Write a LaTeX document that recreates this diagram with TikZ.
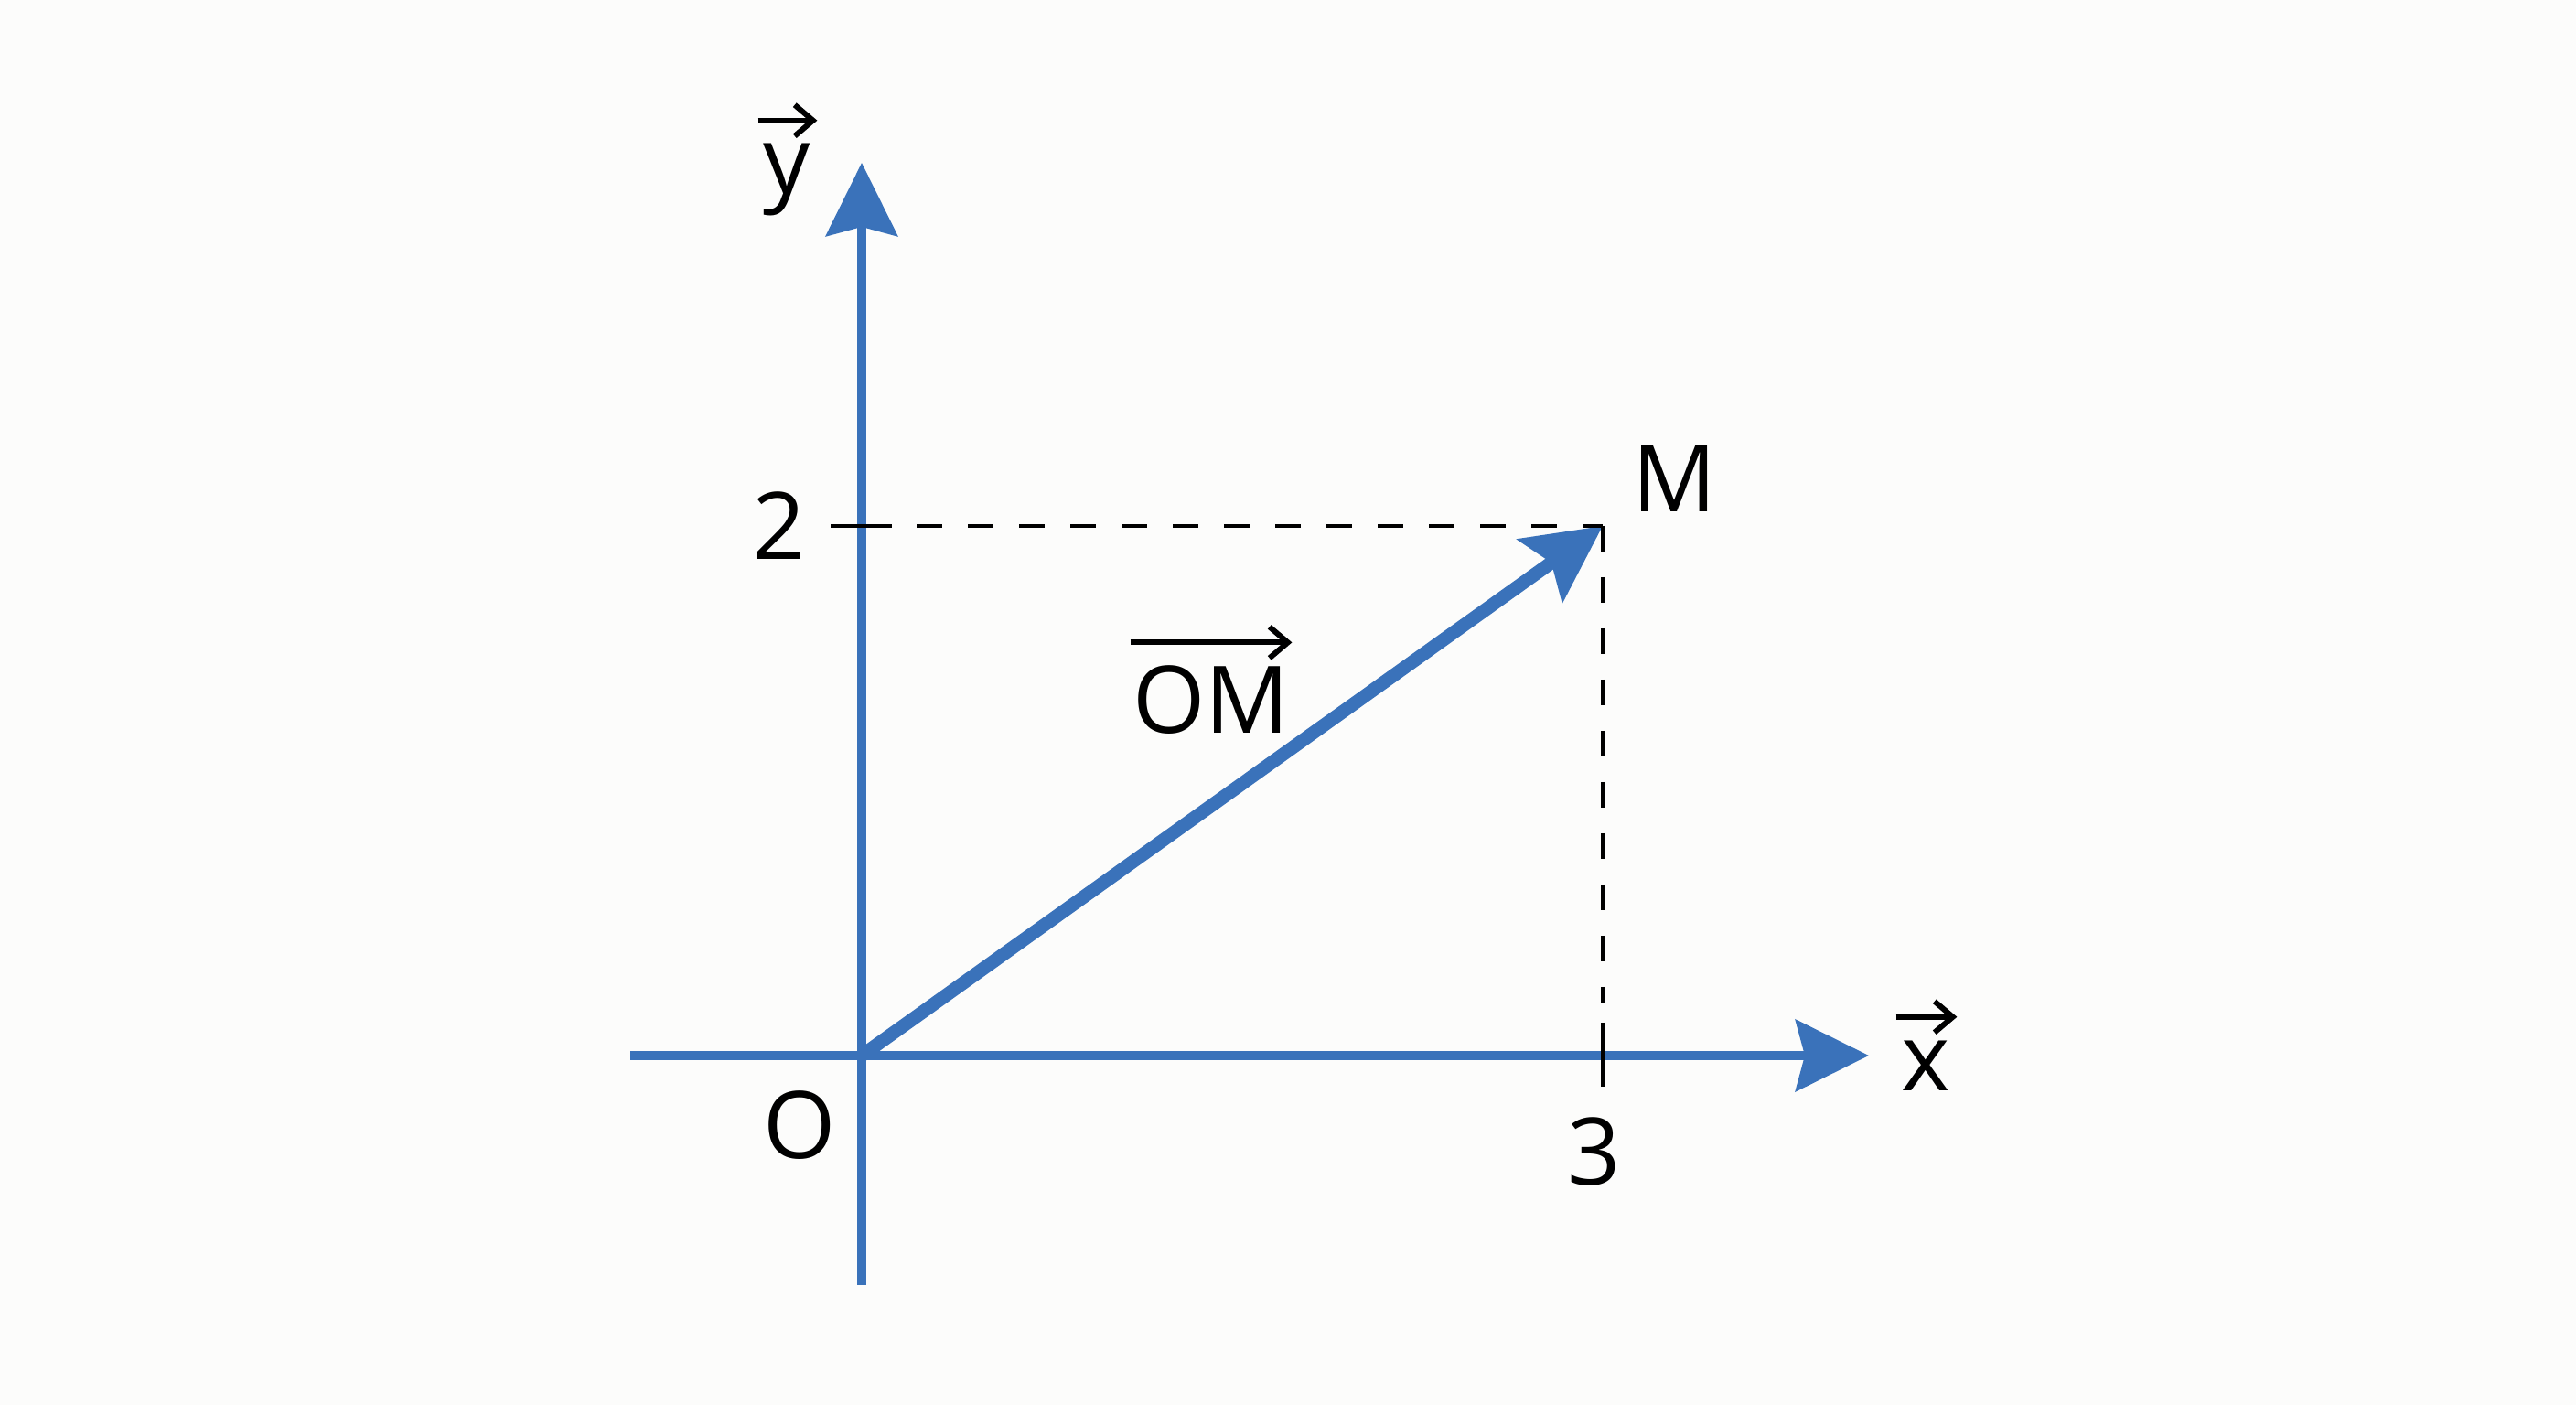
\documentclass[tikz,border=0pt]{standalone}
\usepackage{fontspec}
\setmainfont{Open Sans}
\usetikzlibrary{arrows.meta}
\definecolor{axisblue}{RGB}{58,114,186}
\definecolor{bgcol}{RGB}{252,252,251}
\tikzset{
  axisline/.style={draw=axisblue, line width=0.1cm, -{Stealth[length=0.8cm,width=0.78cm,inset=0.1cm]}, fill=axisblue},
  vecline/.style={draw=axisblue, line width=0.145cm, -{Stealth[length=0.84cm,width=0.84cm,inset=0.15cm]}, fill=axisblue},
  guide/.style={draw=black, line width=0.045cm, dash pattern=on 0.28cm off 0.28cm},
  tick/.style={draw=black, line width=0.045cm},
  lbl/.style={inner sep=0pt, font=\fontsize{29}{34}\selectfont},
  vecmark/.style={draw=black, line width=0.06cm, -{Straight Barb[length=0.2cm,width=0.34cm]}}
}
\begin{document}
\begin{tikzpicture}
\useasboundingbox[fill=bgcol] (0,0) rectangle (28.16,15.36);
% key points
\coordinate (O) at (9.42,3.82);
\coordinate (xL) at (6.89,3.82);
\coordinate (xT) at (20.43,3.82);
\coordinate (yB) at (9.42,1.31);
\coordinate (yT) at (9.42,13.58);
\coordinate (M) at (17.52,9.61);
\coordinate (h0) at (9.08,9.61);
\coordinate (h1) at (9.75,9.61);
\coordinate (h2) at (10.02,9.61);
\coordinate (v1) at (17.52,4.39);
\coordinate (t0) at (17.52,4.18);
\coordinate (t1) at (17.52,3.48);
% axes
\draw[axisline] (xL) -- (xT);
\draw[axisline] (yB) -- (yT);
% vector OM
\draw[vecline] (O) -- (M);
% guides
\draw[tick] (h0) -- (h1);
\draw[guide] (h2) -- (M);
\draw[guide] (M) -- (v1);
\draw[tick] (t0) -- (t1);
% labels
\node[lbl] (l2) at (8.52,9.61) {2};
\node[lbl] (l3) at (17.43,2.77) {3};
\node[lbl] (lO) at (8.74,3.06) {O};
\node[lbl] (lM) at (18.30,10.13) {M};
\node[lbl, anchor=base] (lx) at (21.05,3.43) {x};
\node[lbl, anchor=base] (ly) at (8.60,13.24) {y};
\node[lbl, anchor=base] (lom) at (13.24,7.34) {OM};
\draw[vecmark] ([shift={(-0.05,0.26)}]lx.north west) -- ([shift={(0.07,0.26)}]lx.north east);
\draw[vecmark] ([shift={(-0.05,0.25)}]ly.north west) -- ([shift={(0.07,0.25)}]ly.north east);
\draw[vecmark] ([shift={(-0.02,0.25)}]lom.north west) -- ([shift={(0.02,0.25)}]lom.north east);
\end{tikzpicture}
\end{document}
